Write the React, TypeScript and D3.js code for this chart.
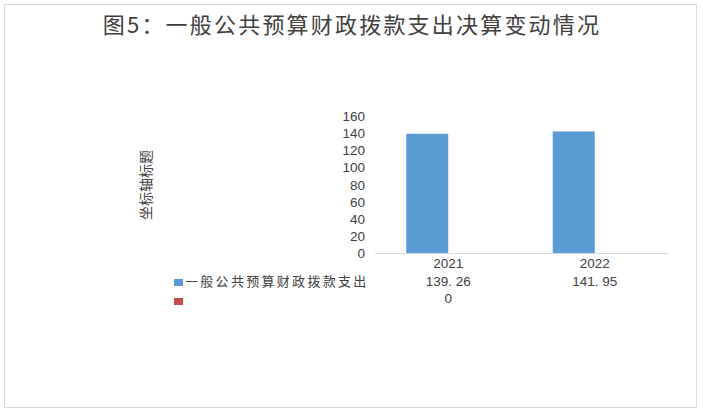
import * as d3 from "d3";

const categories = ["2021", "2022"];
const seriesNames = ["一般公共预算财政拨款支出", ""];
const spending = [139.26, 141.95];
const secondSeries: (number | null)[] = [0, null];
const spendingLabels = ["139. 26", "141. 95"];
const secondLabels = ["0", ""];
const yTicks = [0, 20, 40, 60, 80, 100, 120, 140, 160];

const colors = ["#5B9BD5", "#C0504D"];
const font = "'Noto Sans CJK SC', 'Open Sans', sans-serif";
const numFont = "'Liberation Sans', Arial, sans-serif";
const textColor = "#404040";

export default function App() {
  const width = 703;
  const height = 418;
  const plot = { left: 375, right: 668, top: 116, bottom: 253 };

  const x = d3.scaleBand(categories, [plot.left, plot.right]);
  const y = d3.scaleLinear([0, 160], [plot.bottom, plot.top]);
  const barWidth = 42;

  return (
    <svg
      width={width}
      height={height}
      viewBox={`0 0 ${width} ${height}`}
      style={{ position: "absolute", left: 0, top: 0, fontFamily: font }}
    >
      <rect x={0} y={0} width={width} height={height} fill="#fff" />
      <rect
        x={4.5}
        y={4.5}
        width={692}
        height={403}
        fill="#fff"
        stroke="#d9d9d9"
        strokeWidth={1}
      />
      <text
        x={352}
        y={33}
        textAnchor="middle"
        fontSize={22}
        letterSpacing={2.2}
        fill={textColor}
      >
        图5：一般公共预算财政拨款支出决算变动情况
      </text>

      <text
        x={0}
        y={0}
        transform={`translate(151 185) rotate(-90)`}
        textAnchor="middle"
        fontSize={14}
        fill={textColor}
      >
        坐标轴标题
      </text>

      {yTicks.map((t) => (
        <text
          key={t}
          x={365}
          y={y(t) + 5}
          textAnchor="end"
          fontSize={13.5}
          fontFamily={numFont}
          fill={textColor}
        >
          {t}
        </text>
      ))}

      {categories.map((c, i) => {
        const center = (x(c) ?? 0) + x.bandwidth() / 2;
        return (
          <g key={c}>
            <rect
              x={center - barWidth}
              y={y(spending[i])}
              width={barWidth}
              height={y(0) - y(spending[i])}
              fill={colors[0]}
            />
            {secondSeries[i] !== null && (
              <rect
                x={center}
                y={y(secondSeries[i] as number)}
                width={barWidth}
                height={y(0) - y(secondSeries[i] as number)}
                fill={colors[1]}
              />
            )}
          </g>
        );
      })}

      <line
        x1={plot.left}
        x2={plot.right}
        y1={y(0) + 0.5}
        y2={y(0) + 0.5}
        stroke="#d9d9d9"
        strokeWidth={1}
      />

      {categories.map((c) => (
        <text
          key={c}
          x={(x(c) ?? 0) + x.bandwidth() / 2}
          y={268}
          textAnchor="middle"
          fontSize={13.5}
          fontFamily={numFont}
          fill={textColor}
        >
          {c}
        </text>
      ))}

      <rect x={174} y={279} width={9} height={7} fill={colors[0]} />
      <text x={185} y={286} fontSize={13} letterSpacing={2.3} fill={textColor}>
        {seriesNames[0]}
      </text>
      <rect x={174} y={298} width={9} height={7} fill={colors[1]} />

      {categories.map((c, i) => (
        <g key={c}>
          <text
            x={(x(c) ?? 0) + x.bandwidth() / 2}
            y={286}
            textAnchor="middle"
            fontSize={13.5}
            fontFamily={numFont}
            fill={textColor}
          >
            {spendingLabels[i]}
          </text>
          <text
            x={(x(c) ?? 0) + x.bandwidth() / 2}
            y={303}
            textAnchor="middle"
            fontSize={13.5}
            fontFamily={numFont}
            fill={textColor}
          >
            {secondLabels[i]}
          </text>
        </g>
      ))}
    </svg>
  );
}
